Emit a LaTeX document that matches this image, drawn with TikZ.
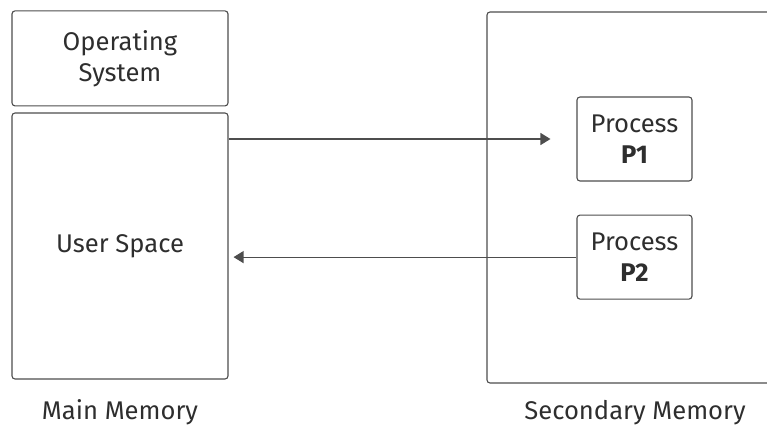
\documentclass[tikz,border=0pt]{standalone}
\usepackage{fontspec}
\setmainfont{Fira Sans}
\usepackage{xcolor}
\usepackage{tikz}
\usetikzlibrary{arrows.meta,positioning}
\definecolor{mline}{HTML}{4D4D4D}
\definecolor{mtext}{HTML}{2E2E2E}

\begin{document}
\begin{tikzpicture}[
    x=0.5pt, y=-0.5pt,
    >={Triangle[length=5pt,width=6pt]},
    memblock/.style={rectangle, draw=mline, line width=0.55pt, rounded corners=1.5pt, align=center, font=\fontsize{12.8}{15.5}\selectfont, text=mtext},
    caption/.style={font=\fontsize{12.8}{15.5}\selectfont, text=mtext, inner sep=0pt},
    pipe/.style={->, draw=mline, line width=0.6pt},
]
\useasboundingbox (0,0) rectangle (767,424);
\clip (0,0) rectangle (767,424);

% --- Main memory ---
\node[memblock, minimum width=108pt, minimum height=133pt] (user) at (120,246) {User Space};
\node[memblock, minimum width=108pt, minimum height=47.5pt, above=3pt of user] (os) {Operating\\System};
\node[caption, below=10pt of user] (mainlbl) {Main Memory};

% --- Secondary memory ---
\node[memblock, minimum width=151.5pt, minimum height=185.5pt] (sec) at (638.5,197.5) {};
\node[memblock, minimum width=57.5pt, minimum height=42pt] (p1) at (634.5,139) {Process\\\textbf{P1}};
\node[memblock, minimum width=57.5pt, minimum height=42pt, below=16.5pt of p1] (p2) {Process\\\textbf{P2}};
\node[caption, anchor=base] (seclbl) at ([xshift=-1.75pt]mainlbl.base -| sec.center) {Secondary Memory};

% --- Arrows ---
\draw[pipe] (user.east |- p1.west) -- ([xshift=-13pt]p1.west);
\draw[pipe] (p2.west) -- ([xshift=2.5pt]user.east |- p2.west);

\end{tikzpicture}
\end{document}
